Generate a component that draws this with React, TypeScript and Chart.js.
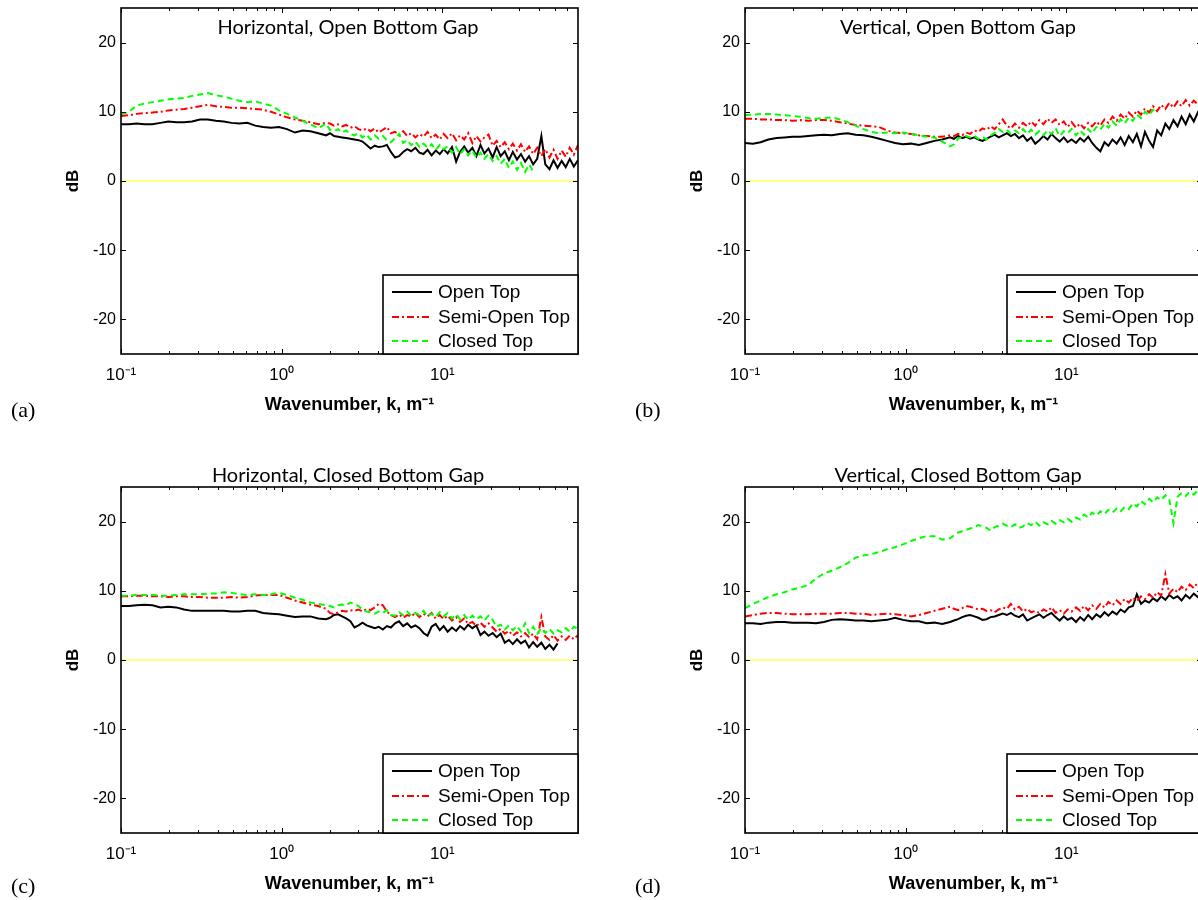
import React, { useEffect, useRef } from "react";
import { Chart, registerables } from "chart.js";
Chart.register(...registerables);

// Wavenumber sample positions (m^-1)
const K = [
  0.100, 0.112, 0.125, 0.140, 0.157, 0.176, 0.197, 0.221, 0.247, 0.277,
  0.310, 0.347, 0.389, 0.436, 0.488, 0.546, 0.612, 0.685, 0.767, 0.859,
  0.962, 1.08, 1.21, 1.35, 1.51, 1.69, 1.89, 2.00, 2.12, 2.25,
  2.38, 2.52, 2.68, 2.84, 3.01, 3.19, 3.38, 3.58, 3.80, 4.02,
  4.27, 4.52, 4.79, 5.08, 5.38, 5.71, 6.05, 6.41, 6.80, 7.21,
  7.64, 8.10, 8.58, 9.10, 9.65, 10.2, 10.8, 11.5, 12.2, 12.9,
  13.7, 14.5, 15.4, 16.3, 17.3, 18.3, 19.4, 20.6, 21.8, 23.1,
  24.5, 26.0, 27.5, 29.2, 30.9, 32.8, 34.7, 36.8, 39.0, 41.4,
  43.8, 46.5, 49.3, 52.2, 55.4, 58.7, 62.2, 65.9, 69.9,
];

// (a) Horizontal, Open Bottom Gap
const A_OPEN = [8.2,8.2,8.3,8.2,8.2,8.4,8.6,8.5,8.5,8.6, 8.9,8.9,8.7,8.6,8.4,8.3,8.4,8.0,7.8,7.7, 7.8,7.5,7.0,7.3,7.2,6.9,6.6,6.9,6.5,6.4, 6.3,6.2,6.1,6.0,5.9,5.7,5.2,4.7,5.1,4.9, 5.0,5.2,4.2,3.4,3.6,4.2,4.6,4.3,4.8,4.1, 3.9,4.5,3.7,4.4,3.9,4.6,4.0,4.9,2.8,4.2, 5.0,4.1,4.8,3.6,5.2,4.0,4.7,3.4,4.9,3.6, 4.3,3.0,4.2,3.1,3.9,2.8,3.6,2.4,3.2,6.5, 2.4,1.7,3.0,1.9,2.9,2.0,3.2,2.1,3.0];
const A_SEMI = [9.4,9.5,9.7,9.8,9.9,10.0,10.2,10.3,10.4,10.6, 10.8,11.0,10.8,10.7,10.6,10.6,10.5,10.4,10.3,10.0, 9.6,9.2,8.9,8.7,8.5,8.2,8.4,8.3,8.0,8.2, 7.9,8.1,7.7,7.9,7.5,7.3,7.6,7.2,7.6,7.0, 7.4,7.8,6.9,7.1,6.6,7.2,6.5,6.9,6.3,6.8, 6.4,7.1,6.2,6.7,6.0,6.8,6.2,6.9,5.9,6.6, 6.0,6.9,5.5,6.5,5.7,6.3,6.7,5.1,5.8,4.9, 5.6,4.6,5.4,4.4,5.3,4.2,5.0,3.9,4.8,3.6, 4.6,3.4,4.5,3.2,4.4,3.5,4.8,3.8,5.2];
const A_CLOSED = [9.6,10.0,10.9,11.2,11.4,11.6,11.8,11.9,12.0,12.3, 12.5,12.7,12.4,12.2,11.9,11.6,11.4,11.5,11.2,10.9, 10.2,9.7,9.2,8.7,8.2,7.6,8.3,7.4,7.2,7.5, 7.0,7.3,6.8,6.6,6.9,6.3,6.7,6.0,6.6,6.1, 6.5,5.9,5.6,6.2,6.8,5.5,5.9,5.2,5.7,4.9, 5.4,4.8,5.3,4.5,5.2,4.6,5.0,4.1,4.9,3.9, 4.6,3.7,4.4,3.4,4.1,3.2,3.9,2.9,3.6,2.5, 3.2,1.9,2.8,1.6,2.6,1.3,2.4,1.4];

// (b) Vertical, Open Bottom Gap
const B_OPEN = [5.5,5.4,5.6,6.0,6.2,6.3,6.4,6.4,6.5,6.6, 6.7,6.6,6.8,6.9,6.7,6.6,6.4,6.1,5.8,5.5, 5.3,5.4,5.2,5.5,5.8,6.0,6.3,6.1,6.5,6.2, 6.4,6.1,6.3,6.0,5.8,6.1,6.4,6.7,6.3,6.6, 6.9,6.5,6.8,6.2,6.6,5.8,6.3,5.4,5.9,6.5, 6.0,6.8,6.2,5.7,6.3,5.6,6.0,5.5,6.2,5.7, 6.4,5.5,4.8,4.3,5.6,5.1,6.0,5.4,6.3,5.2, 6.5,5.6,6.8,5.0,7.1,5.8,4.9,7.3,6.6,8.3, 7.5,8.8,7.9,9.3,8.2,9.6,8.6,9.9,9.2];
const B_SEMI = [9.0,9.0,8.9,8.9,8.8,8.8,8.7,8.8,8.7,8.8, 8.8,8.7,8.5,8.3,8.1,8.0,7.9,7.8,7.3,7.0, 6.9,6.8,6.6,6.5,6.4,6.4,6.6,6.5,6.8,6.6, 7.0,6.8,7.3,7.1,7.6,7.4,7.9,7.5,8.2,8.9, 8.0,7.6,8.3,7.7,8.4,7.9,8.6,8.0,8.8,8.2, 9.0,8.4,8.9,8.1,8.6,7.8,8.5,7.7,8.3,7.6, 8.4,7.9,8.6,8.0,8.9,8.4,9.3,8.7,9.6,9.0, 9.9,9.3,10.2,9.6,10.5,9.9,10.8,10.1,11.0,10.4, 11.3,10.6,11.5,10.8,11.7,10.9,11.6,11.1,11.8];
const B_CLOSED = [9.5,9.6,9.7,9.7,9.6,9.5,9.4,9.3,9.1,9.0, 9.1,9.2,8.9,8.5,8.0,7.5,7.1,6.9,7.0,6.9, 7.0,6.8,6.6,6.4,6.3,5.7,5.0,5.3,6.1,6.4, 6.5,6.3,6.5,6.1,6.4,6.0,6.6,6.9,7.5,7.1, 7.4,6.8,7.3,6.9,7.5,6.8,7.4,6.7,7.2,6.6, 7.3,6.8,7.6,6.5,7.2,6.9,7.5,6.6,7.3,6.7, 7.5,6.9,7.8,7.4,8.3,7.7,8.6,8.0,8.9,8.3, 9.2,8.7,9.6,9.1,10.0,9.5,10.3,9.9];

// (c) Horizontal, Closed Bottom Gap
const C_OPEN = [7.8,7.8,7.9,8.0,7.9,7.6,7.7,7.6,7.3,7.1, 7.1,7.1,7.1,7.1,7.0,7.0,7.1,7.1,6.8,6.7, 6.6,6.4,6.2,6.3,6.3,6.0,5.9,6.1,6.5,6.6, 6.3,6.0,5.6,4.7,5.0,5.4,5.0,4.8,4.6,4.8, 4.4,4.9,4.7,5.3,5.6,4.9,5.3,4.7,5.0,4.6, 3.9,3.5,4.8,5.2,4.3,4.9,4.1,4.7,4.2,4.9, 4.4,5.1,4.6,5.0,3.6,4.1,3.5,3.9,3.3,3.8, 2.5,2.9,2.3,3.0,2.4,2.8,1.8,2.6,1.9,2.5, 1.6,2.2,1.5,2.4];
const C_SEMI = [9.2,9.2,9.3,9.3,9.2,9.2,9.1,9.2,9.2,9.1, 9.1,9.0,9.0,9.0,9.1,9.0,9.1,9.3,9.4,9.4, 9.4,9.0,8.6,8.3,8.0,7.8,7.4,6.8,6.6,6.9, 7.1,7.0,7.2,7.1,7.3,7.0,7.4,7.2,7.6,8.1, 7.9,7.0,6.5,6.2,6.6,6.1,6.5,6.3,6.8,6.2, 6.7,6.3,6.8,6.0,6.5,5.9,6.4,5.7,6.2,5.5, 6.0,5.2,5.5,4.9,5.4,4.8,5.3,4.7,4.1,4.5, 3.8,4.2,3.5,4.0,3.4,3.9,3.3,3.8,3.0,6.2, 3.4,2.9,3.6,2.8,3.4,2.9,3.5,3.0,3.6];
const C_CLOSED = [9.3,9.3,9.4,9.4,9.4,9.3,9.3,9.4,9.5,9.5, 9.5,9.6,9.6,9.8,9.7,9.5,9.4,9.5,9.4,9.5, 9.7,9.4,9.0,8.7,8.3,8.1,7.9,7.8,7.6,7.9, 8.0,7.9,8.3,8.1,7.8,7.3,7.0,6.9,6.7,7.0, 6.8,7.2,6.5,6.4,6.9,6.5,7.0,6.4,6.8,6.5, 7.1,6.3,6.7,6.2,6.9,6.3,6.8,6.0,6.6,5.9, 6.5,5.8,6.4,5.9,6.3,5.7,6.4,5.8,4.8,5.1, 4.4,5.0,4.3,4.9,4.1,5.3,3.9,4.8,3.8,4.6, 3.9,4.5,3.8,4.3,4.0,4.6,4.1,4.8,4.5];

// (d) Vertical, Closed Bottom Gap
const D_OPEN = [5.3,5.3,5.2,5.4,5.5,5.5,5.4,5.4,5.4,5.3, 5.5,5.8,5.9,5.8,5.7,5.7,5.6,5.7,5.8,6.1, 5.8,5.6,5.6,5.3,5.4,5.2,5.5,5.7,5.9,6.2, 6.4,6.5,6.3,6.1,5.8,5.9,6.2,6.3,6.5,6.7, 6.5,6.8,6.4,6.2,6.6,5.7,6.0,6.3,6.6,6.1, 6.5,6.8,6.2,5.7,6.3,5.8,6.1,5.5,6.2,5.7, 6.5,5.9,6.6,6.2,6.9,6.4,7.0,6.6,7.3,6.9, 7.6,7.8,9.5,8.1,8.6,8.3,8.9,8.5,9.2,8.7, 9.4,8.9,9.2,8.6,9.4,8.9,9.6,9.1,9.8];
const D_SEMI = [6.3,6.5,6.7,6.8,6.8,6.7,6.6,6.6,6.6,6.7, 6.7,6.7,6.8,6.8,6.7,6.7,6.5,6.6,6.7,6.6, 6.5,6.3,6.5,6.8,7.1,7.4,7.7,7.4,7.2,7.5, 7.8,7.7,7.5,7.3,7.4,7.1,7.2,6.9,7.3,7.6, 7.4,8.1,7.3,7.7,7.0,7.4,6.9,7.1,6.8,7.3, 7.0,7.6,6.8,7.2,6.7,7.3,7.0,7.6,7.1,7.8, 7.2,7.9,7.4,8.1,7.6,8.4,7.9,8.6,8.1,8.8, 8.3,9.0,8.5,9.2,8.8,9.5,9.0,9.8,9.3,12.4, 9.6,10.3,9.8,10.6,10.1,10.9,10.4,11.2,10.7];
const D_CLOSED = [7.5,8.1,8.6,9.1,9.5,9.8,10.2,10.5,10.8,11.8, 12.5,12.9,13.4,14.0,14.8,15.1,15.3,15.6,16.0,16.3, 16.7,17.2,17.6,17.9,17.9,17.4,17.6,18.0,18.4,18.6, 18.8,19.0,19.2,19.5,19.3,19.1,18.7,19.2,19.4,19.7, 19.4,19.2,19.6,19.1,19.3,19.8,19.5,20.0,19.4,19.9, 19.6,20.1,19.7,20.2,19.9,20.4,20.0,20.6,20.3,21.0, 20.6,21.3,20.9,21.5,21.1,21.7,21.3,21.9,21.5,22.1, 21.8,22.6,22.2,23.0,22.5,23.3,22.8,23.5,23.1,23.8, 23.2,19.8,23.6,24.1,23.7,24.3,23.9,24.5,24.2];

// Zero reference line
const ZERO_K = [0.1, 70];
const ZERO_DB = [0, 0];

const X_MAJOR = [0.1, 1, 10];
const X_LABELS = ["10\u207B\u00B9", "10\u2070", "10\u00B9"];
const X_MINOR = [0.2, 0.3, 0.4, 0.5, 0.6, 0.7, 0.8, 0.9, 2, 3, 4, 5, 6, 7, 8, 9, 20, 30, 40, 50, 60];
const Y_TICKS = [-20, -10, 0, 10, 20];
const SERIES_NAMES = ["Open Top", "Semi-Open Top", "Closed Top"];
const PANEL_TITLES = [
  "Horizontal, Open Bottom Gap",
  "Vertical, Open Bottom Gap",
  "Horizontal, Closed Bottom Gap",
  "Vertical, Closed Bottom Gap",
];
const PANEL_LETTERS = ["(a)", "(b)", "(c)", "(d)"];
const X_TITLE = "Wavenumber, k, m\u207B\u00B9";
const Y_TITLE = "dB";

const SANS = '"Liberation Sans", Arial, sans-serif';
const COLORS = ["#000000", "#ff0000", "#00ff00"];
const DASHES: number[][] = [[], [7, 3, 2, 3], [6, 4]];

const CW = 598;
const CH = 456;

type PanelProps = {
  left: number;
  top: number;
  title: string;
  titleDx: number;
  titleDy: number;
  series: number[][];
};

function pts(xs: number[], ys: number[]) {
  return ys.map((v, i) => ({ x: xs[i], y: v }));
}

function Panel(p: PanelProps) {
  const ref = useRef<HTMLCanvasElement>(null);
  useEffect(() => {
    const canvas = ref.current!;
    const decor = {
      id: "decor",
      afterDraw(chart: any) {
        const ctx = chart.ctx;
        const { left, right, top, bottom } = chart.chartArea;
        const xs = chart.scales.x;
        const ys = chart.scales.y;
        ctx.save();
        ctx.setLineDash([]);
        ctx.strokeStyle = "#000";
        ctx.lineWidth = 1;
        ctx.beginPath();
        for (const v of Y_TICKS) {
          const y = Math.round(ys.getPixelForValue(v)) + 0.5;
          ctx.moveTo(left, y); ctx.lineTo(left + 5, y);
          ctx.moveTo(right, y); ctx.lineTo(right - 5, y);
        }
        for (const v of X_MAJOR) {
          const x = Math.round(xs.getPixelForValue(v)) + 0.5;
          ctx.moveTo(x, bottom); ctx.lineTo(x, bottom - 5);
          ctx.moveTo(x, top); ctx.lineTo(x, top + 5);
        }
        for (const v of X_MINOR) {
          const x = Math.round(xs.getPixelForValue(v)) + 0.5;
          ctx.moveTo(x, bottom); ctx.lineTo(x, bottom - 3);
          ctx.moveTo(x, top); ctx.lineTo(x, top + 3);
        }
        ctx.stroke();
        ctx.lineWidth = 1.6;
        ctx.strokeRect(left, top, right - left, bottom - top);

        // title
        ctx.fillStyle = "#000";
        ctx.font = '20px Lato, "Open Sans", sans-serif';
        ctx.textAlign = "center";
        ctx.textBaseline = "middle";
        ctx.fillText(p.title, left + p.titleDx, top + p.titleDy);

        // legend
        const lw = 195, lh = 79;
        const lx = right - lw, ly = bottom - lh;
        ctx.fillStyle = "#fff";
        ctx.fillRect(lx, ly, lw, lh);
        ctx.lineWidth = 1.6;
        ctx.strokeStyle = "#000";
        ctx.strokeRect(lx, ly, lw, lh);
        const rows = [62, 37, 13];
        ctx.font = `19px ${SANS}`;
        ctx.textAlign = "left";
        const ds = chart.data.datasets.slice(1);
        ds.forEach((d: any, i: number) => {
          const y = bottom - rows[i];
          ctx.strokeStyle = d.borderColor;
          ctx.lineWidth = 2;
          ctx.setLineDash(d.borderDash || []);
          ctx.beginPath();
          ctx.moveTo(lx + 9, y);
          ctx.lineTo(lx + 49, y);
          ctx.stroke();
          ctx.setLineDash([]);
          ctx.fillStyle = "#000";
          ctx.fillText(d.label, lx + 55, y + 1);
        });
        ctx.restore();
      },
    };

    const datasets: any[] = [
      {
        label: "zero",
        data: pts(ZERO_K, ZERO_DB),
        borderColor: "#ffff80",
        borderWidth: 2,
        pointRadius: 0,
        order: 10,
      },
    ];
    p.series.forEach((vals, i) => {
      datasets.push({
        label: SERIES_NAMES[i],
        data: pts(K, vals),
        borderColor: COLORS[i],
        borderDash: DASHES[i],
        borderWidth: 2,
        pointRadius: 0,
        order: 3 - i,
      });
    });

    const chart = new Chart(canvas, {
      type: "line",
      data: { datasets },
      options: {
        animation: false,
        responsive: false,
        devicePixelRatio: 1,
        layout: { padding: { left: 50, top: 40, right: 20, bottom: 0 } },
        elements: { line: { tension: 0 } },
        plugins: {
          legend: { display: false },
          tooltip: { enabled: false },
          title: { display: false },
        },
        scales: {
          x: {
            type: "logarithmic",
            min: 0.1,
            max: 70,
            grid: { display: false, drawTicks: false },
            border: { display: false },
            afterBuildTicks: (s: any) => {
              s.ticks = X_MAJOR.map((v) => ({ value: v }));
            },
            afterFit: (s: any) => {
              s.height = 70;
            },
            ticks: {
              callback: (_v: any, i: number) => X_LABELS[i],
              font: { family: SANS, size: 17 },
              color: "#000",
              padding: 11,
              maxRotation: 0,
              autoSkip: false,
            },
            title: {
              display: true,
              text: X_TITLE,
              font: { family: SANS, size: 18, weight: "bold" },
              color: "#000",
              padding: { top: 0, bottom: 8 },
            },
          },
          y: {
            type: "linear",
            min: -25,
            max: 25,
            grid: { display: false, drawTicks: false },
            border: { display: false },
            afterBuildTicks: (s: any) => {
              s.ticks = Y_TICKS.map((v) => ({ value: v }));
            },
            afterFit: (s: any) => {
              s.width = 71;
            },
            ticks: {
              font: { family: SANS, size: 16 },
              color: "#000",
              padding: 5,
            },
            title: {
              display: true,
              text: Y_TITLE,
              font: { family: SANS, size: 17, weight: "bold" },
              color: "#000",
              padding: { top: 13, bottom: 0 },
            },
          },
        },
      } as any,
      plugins: [decor],
    });
    return () => chart.destroy();
  }, []);
  return (
    <canvas
      ref={ref}
      width={CW}
      height={CH}
      style={{ position: "absolute", left: p.left, top: p.top, width: CW, height: CH }}
    />
  );
}

const PANELS = [
  { left: 0, top: -32, titleDx: 227, titleDy: 20, series: [A_OPEN, A_SEMI, A_CLOSED] },
  { left: 624, top: -32, titleDx: 213, titleDy: 20, series: [B_OPEN, B_SEMI, B_CLOSED] },
  { left: 0, top: 447, titleDx: 227, titleDy: -11, series: [C_OPEN, C_SEMI, C_CLOSED] },
  { left: 624, top: 447, titleDx: 213, titleDy: -11, series: [D_OPEN, D_SEMI, D_CLOSED] },
];
const LETTER_POS = [
  { left: 11, top: 399 },
  { left: 635, top: 399 },
  { left: 11, top: 875 },
  { left: 635, top: 875 },
];

export default function App() {
  return (
    <div
      style={{
        position: "fixed",
        left: 0,
        top: 0,
        width: 1198,
        height: 900,
        overflow: "hidden",
        background: "#fff",
      }}
    >
      {PANELS.map((pn, i) => (
        <Panel
          key={i}
          left={pn.left}
          top={pn.top}
          title={PANEL_TITLES[i]}
          titleDx={pn.titleDx}
          titleDy={pn.titleDy}
          series={pn.series}
        />
      ))}
      {PANEL_LETTERS.map((t, i) => (
        <div
          key={t}
          style={{
            position: "absolute",
            left: LETTER_POS[i].left,
            top: LETTER_POS[i].top,
            fontFamily: '"Liberation Serif", "Times New Roman", serif',
            fontSize: 22,
            lineHeight: "22px",
            color: "#000",
          }}
        >
          {t}
        </div>
      ))}
    </div>
  );
}
